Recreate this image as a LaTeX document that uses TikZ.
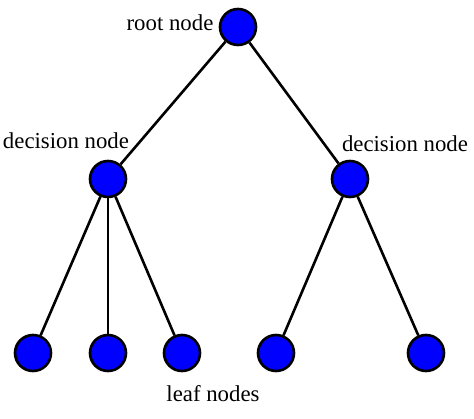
\documentclass[tikz,border=0pt]{standalone}
\usepackage{fontspec}
\setmainfont{Liberation Serif}
\begin{document}
\begin{tikzpicture}[x=1pt, y=-1pt,
    treenode/.style={circle, draw=black, fill=blue, line width=2.6pt, minimum size=36pt, inner sep=0pt},
    tag/.style={font=\fontsize{22.8}{26}\selectfont, inner sep=0pt},
    branch/.style={black, line width=2.6pt}]
        \useasboundingbox (0, 0) rectangle (474, 418);

        % Root
        \node[treenode] (root) at (238, 27) {};
        \node[tag] (roottag) at (170, 23) {root node};

        % Decision
        \node[treenode] (decl) at (108, 179) {};
        \node[treenode] (decr) at (350, 179) {};
        \node[tag] (decltag) at (66, 141) {decision node};
        \node[tag] (decrtag) at (405, 144) {decision node};

        % Leaves
        \node[treenode] (leafa) at (33, 353) {};
        \node[treenode] (leafb) at (108, 353) {};
        \node[treenode] (leafc) at (182, 353) {};
        \node[treenode] (leafd) at (276, 353) {};
        \node[treenode] (leafe) at (426, 353) {};
        \node[tag] (leaftag) at (213, 394) {leaf nodes};

        % Branches
        \draw[branch] (root) -- (decl);
        \draw[branch] (root) -- (decr);
        \draw[branch] (decl) -- (leafa);
        \draw[branch] (decl) -- (leafb);
        \draw[branch] (decl) -- (leafc);
        \draw[branch] (decr) -- (leafd);
        \draw[branch] (decr) -- (leafe);
    \end{tikzpicture}
\end{document}
